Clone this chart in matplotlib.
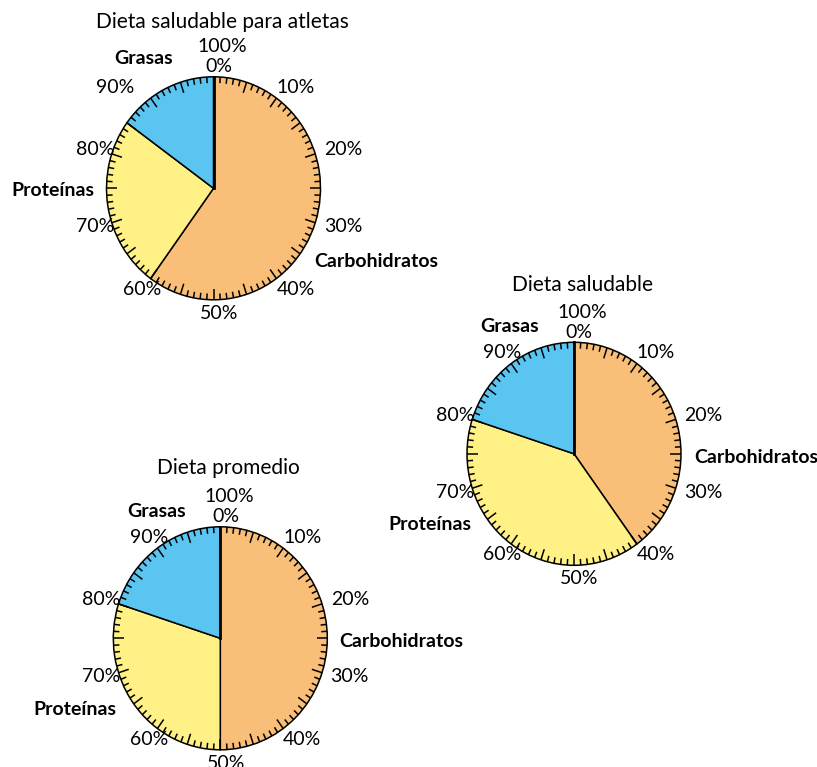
import numpy as np
import matplotlib.pyplot as plt

# macronutrient shares (%) for each diet
categories = ["Carbohidratos", "Proteínas", "Grasas"]
titles = ["Dieta saludable para atletas", "Dieta saludable", "Dieta promedio"]
atletas = [60, 25, 15]
saludable = [40, 40, 20]
promedio = [50, 30, 20]
diets = [atletas, saludable, promedio]
percent_ticks = list(range(0, 100, 10))

colors = ["#F9BF78", "#FFF185", "#5BC5F2"]

W, H = 817, 767
plt.rcParams['font.family'] = ['Lato', 'DejaVu Sans']

fig = plt.figure(figsize=(W / 100, H / 100), dpi=100)

# pixel centre of each pie, plus label offsets (in radius units)
centers = [(213.5, 188.3), (574, 453.8), (220.3, 638.3)]
rx, ry = 107, 111.5
label_pos = [
    {"Carbohidratos": (1.52, -0.66), "Proteínas": (-1.50, -0.02), "Grasas": (-0.65, 1.16)},
    {"Carbohidratos": (1.70, -0.03), "Proteínas": (-1.35, -0.63), "Grasas": (-0.60, 1.14)},
    {"Carbohidratos": (1.69, -0.03), "Proteínas": (-1.36, -0.64), "Grasas": (-0.60, 1.14)},
]
title_y = [1.49, 1.51, 1.53]

for k, vals in enumerate(diets):
    cx, cy = centers[k]
    ax = fig.add_axes([(cx - rx) / W, 1 - (cy + ry) / H, 2 * rx / W, 2 * ry / H])
    ax.pie(vals, colors=colors, startangle=90, counterclock=False,
           wedgeprops=dict(edgecolor="black", linewidth=1.1))
    ax.set_aspect("auto")
    ax.set_xlim(-1, 1)
    ax.set_ylim(-1, 1)

    # graduated rim: 1% ticks, longer every 5%
    for i in range(100):
        t = np.radians(90 - 3.6 * i)
        ln = 0.10 if i % 5 == 0 else 0.055
        ax.plot([np.cos(t), (1 - ln) * np.cos(t)], [np.sin(t), (1 - ln) * np.sin(t)],
                color="black", lw=1.1, clip_on=False, solid_capstyle="butt")
    ax.plot([0, 0], [0, 1], color="black", lw=2, clip_on=False)

    for p in percent_ticks:
        t = np.radians(90 - 3.6 * p)
        x, y = 1.22 * np.cos(t) + 0.05, 1.12 * np.sin(t)
        if p == 0:
            y = 1.09
        if k == 0 and p == 90:
            x -= 0.25
        ax.text(x, y, f"{p}%", ha="center", va="center", fontsize=14, clip_on=False)
    ax.text(0.08, 1.27, "100%", ha="center", va="center", fontsize=14)

    for c in categories:
        lx, ly = label_pos[k][c]
        ax.text(lx, ly, c, ha="center", va="center", fontsize=14, fontweight="bold")
    ax.text(0.08, title_y[k], titles[k], ha="center", va="center", fontsize=15)

fig.savefig("out.png", dpi=100)
